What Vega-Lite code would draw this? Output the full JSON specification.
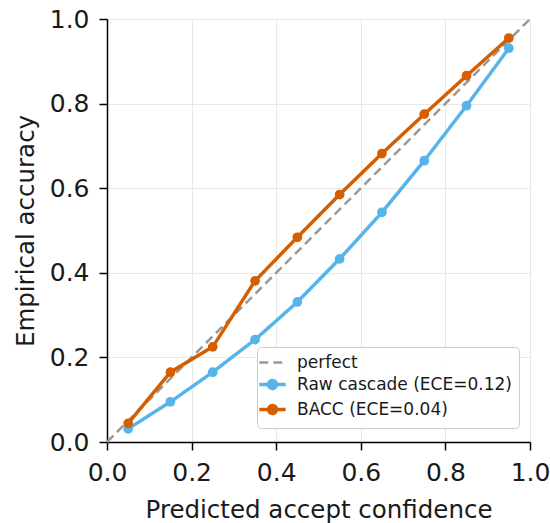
{
  "$schema": "https://vega.github.io/schema/vega-lite/v6.json",
  "width": 423,
  "height": 423,
  "autosize": {"type": "none"},
  "padding": {"left": 107, "top": 19, "right": 20, "bottom": 81},
  "background": "white",
  "config": {
    "view": {"stroke": null},
    "font": "DejaVu Sans",
    "axis": {
      "domainColor": "#000000",
      "domainWidth": 1.5,
      "tickColor": "#000000",
      "tickWidth": 1.5,
      "tickSize": 8,
      "labelFont": "DejaVu Sans",
      "labelFontSize": 25,
      "labelColor": "#1a1a1a",
      "labelFlush": false,
      "labelOverlap": false,
      "titleFont": "DejaVu Sans",
      "titleFontSize": 24.5,
      "titleFontWeight": "normal",
      "titleColor": "#1a1a1a",
      "gridColor": "#e8e8e8",
      "gridWidth": 1
    },
    "legend": {
      "labelFont": "DejaVu Sans",
      "labelFontSize": 17,
      "labelColor": "#1a1a1a",
      "labelLimit": 0
    }
  },
  "datasets": {
    "curves": [
      {"conf": 0.05, "acc": 0.031, "series": "Raw cascade (ECE=0.12)"},
      {"conf": 0.15, "acc": 0.095, "series": "Raw cascade (ECE=0.12)"},
      {"conf": 0.25, "acc": 0.165, "series": "Raw cascade (ECE=0.12)"},
      {"conf": 0.35, "acc": 0.242, "series": "Raw cascade (ECE=0.12)"},
      {"conf": 0.45, "acc": 0.331, "series": "Raw cascade (ECE=0.12)"},
      {"conf": 0.55, "acc": 0.433, "series": "Raw cascade (ECE=0.12)"},
      {"conf": 0.65, "acc": 0.543, "series": "Raw cascade (ECE=0.12)"},
      {"conf": 0.75, "acc": 0.665, "series": "Raw cascade (ECE=0.12)"},
      {"conf": 0.85, "acc": 0.795, "series": "Raw cascade (ECE=0.12)"},
      {"conf": 0.95, "acc": 0.931, "series": "Raw cascade (ECE=0.12)"},
      {"conf": 0.05, "acc": 0.044, "series": "BACC (ECE=0.04)"},
      {"conf": 0.15, "acc": 0.165, "series": "BACC (ECE=0.04)"},
      {"conf": 0.25, "acc": 0.225, "series": "BACC (ECE=0.04)"},
      {"conf": 0.35, "acc": 0.381, "series": "BACC (ECE=0.04)"},
      {"conf": 0.45, "acc": 0.484, "series": "BACC (ECE=0.04)"},
      {"conf": 0.55, "acc": 0.585, "series": "BACC (ECE=0.04)"},
      {"conf": 0.65, "acc": 0.682, "series": "BACC (ECE=0.04)"},
      {"conf": 0.75, "acc": 0.775, "series": "BACC (ECE=0.04)"},
      {"conf": 0.85, "acc": 0.866, "series": "BACC (ECE=0.04)"},
      {"conf": 0.95, "acc": 0.955, "series": "BACC (ECE=0.04)"}
    ],
    "perfect": [
      {"conf": 0, "acc": 0, "series": "perfect"},
      {"conf": 1, "acc": 1, "series": "perfect"}
    ]
  },
  "encoding": {
    "x": {
      "field": "conf",
      "type": "quantitative",
      "scale": {"domain": [0, 1], "nice": false, "zero": false},
      "axis": {
        "title": "Predicted accept confidence",
        "values": [0, 0.2, 0.4, 0.6, 0.8, 1.0],
        "format": ".1f",
        "labelPadding": 10,
        "titleX": 211.5,
        "titleY": 75,
        "titleBaseline": "alphabetic",
        "titleAlign": "center"
      }
    },
    "y": {
      "field": "acc",
      "type": "quantitative",
      "scale": {"domain": [0, 1], "nice": false, "zero": false},
      "axis": {
        "title": "Empirical accuracy",
        "values": [0, 0.2, 0.4, 0.6, 0.8, 1.0],
        "format": ".1f",
        "labelPadding": 10,
        "titleX": -73.5,
        "titleY": 211.5,
        "titleAngle": 270,
        "titleBaseline": "alphabetic",
        "titleAlign": "center"
      }
    },
    "color": {
      "field": "series",
      "type": "nominal",
      "scale": {
        "domain": ["perfect", "Raw cascade (ECE=0.12)", "BACC (ECE=0.04)"],
        "range": ["#999999", "#56B4E9", "#D55E00"]
      },
      "legend": {
        "title": null,
        "orient": "none",
        "legendX": 150,
        "legendY": 328,
        "padding": 7,
        "strokeColor": "#cccccc",
        "fillColor": "rgba(255,255,255,0.85)",
        "cornerRadius": 4,
        "symbolSize": 484,
        "symbolStrokeWidth": 3.5,
        "labelOffset": 16,
        "labelLimit": 0,
        "rowPadding": 2,
        "encode": {
          "symbols": {
            "update": {
              "shape": {"signal": "datum.value === 'perfect' ? 'M-1.2,0H1.2' : 'M-1.2,0H1.2M-0.36,0A0.36,0.36,0,1,1,0.36,0A0.36,0.36,0,1,1,-0.36,0Z'"},
              "stroke": {"scale": "color", "field": "value"},
              "fill": {"scale": "color", "field": "value"},
              "strokeWidth": {"signal": "datum.value === 'perfect' ? 2.5 : 3.5"},
              "strokeDash": {"signal": "datum.value === 'perfect' ? [9, 5] : [1, 0]"},
              "opacity": {"value": 1}
            }
          }
        }
      }
    }
  },
  "layer": [
    {
      "data": {"name": "perfect"},
      "mark": {"type": "line", "strokeWidth": 2.5, "strokeDash": [9, 5]}
    },
    {
      "data": {"name": "curves"},
      "transform": [{"filter": "datum.series === 'Raw cascade (ECE=0.12)'"}],
      "mark": {"type": "line", "strokeWidth": 3.5}
    },
    {
      "data": {"name": "curves"},
      "transform": [{"filter": "datum.series === 'Raw cascade (ECE=0.12)'"}],
      "mark": {"type": "point", "filled": true, "size": 95, "opacity": 1}
    },
    {
      "data": {"name": "curves"},
      "transform": [{"filter": "datum.series === 'BACC (ECE=0.04)'"}],
      "mark": {"type": "line", "strokeWidth": 3.5}
    },
    {
      "data": {"name": "curves"},
      "transform": [{"filter": "datum.series === 'BACC (ECE=0.04)'"}],
      "mark": {"type": "point", "filled": true, "size": 95, "opacity": 1}
    }
  ]
}
